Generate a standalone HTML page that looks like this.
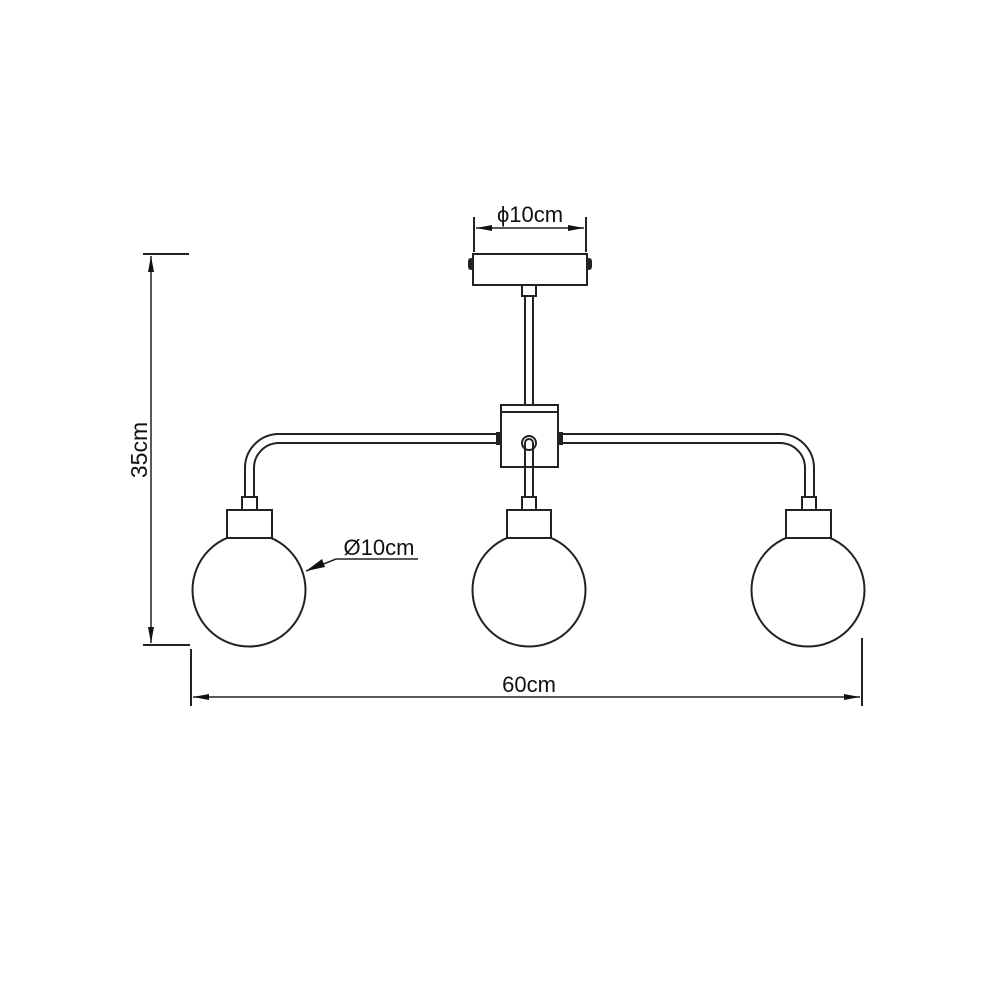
<!DOCTYPE html>
<html><head><meta charset="utf-8"><style>html,body{margin:0;padding:0;background:#fff}svg{display:block}text{font-family:"Liberation Sans",sans-serif;fill:#111}</style></head>
<body>
<svg width="1000" height="1000" viewBox="0 0 1000 1000" xmlns="http://www.w3.org/2000/svg">
<defs>
<marker id="a" viewBox="0 0 10 10" refX="10" refY="5" markerWidth="16" markerHeight="6" markerUnits="userSpaceOnUse" orient="auto-start-reverse" preserveAspectRatio="none"><path d="M0,0 L10,5 L0,10 z" fill="#111"/></marker>
</defs>
<g fill="none" stroke="#222" stroke-width="2">
<line x1="474" y1="217" x2="474" y2="252"/>
<line x1="586" y1="217" x2="586" y2="252"/>
<line x1="476" y1="228" x2="584" y2="228" stroke-width="1.5" marker-start="url(#a)" marker-end="url(#a)"/>
<rect x="473" y="254" width="114" height="31" fill="#fff"/>
<rect x="469" y="259" width="4" height="10" rx="2" fill="#222"/>
<rect x="587" y="259" width="4" height="10" rx="2" fill="#222"/>
<rect x="522" y="285" width="14" height="11"/>
<line x1="525" y1="296" x2="525" y2="405"/>
<line x1="533" y1="296" x2="533" y2="405"/>
<path d="M501,434 H279 A34,34 0 0 0 245,468 V497"/>
<path d="M501,443 H279 A25,25 0 0 0 254,468 V497"/>
<path d="M558,434 H780 A34,34 0 0 1 814,468 V497"/>
<path d="M558,443 H780 A25,25 0 0 1 805,468 V497"/>
<rect x="501" y="405" width="57" height="62" fill="#fff"/>
<line x1="501" y1="412" x2="558" y2="412"/>
<rect x="497" y="433" width="4" height="11" fill="#222"/>
<rect x="558" y="433" width="4" height="11" fill="#222"/>
<path d="M525,497 V443 A4,4 0 0 1 533,443 V497"/>
<circle cx="529" cy="443" r="7"/>
<rect x="242" y="497" width="15" height="13"/>
<circle cx="249" cy="590" r="56.5"/>
<rect x="522" y="497" width="14" height="13"/>
<circle cx="529" cy="590" r="56.5"/>
<rect x="802" y="497" width="14" height="13"/>
<circle cx="808" cy="590" r="56.5"/>
</g>
<g fill="#fff" stroke="#222" stroke-width="2">
<rect x="227" y="510" width="45" height="28"/>
<rect x="507" y="510" width="44" height="28"/>
<rect x="786" y="510" width="45" height="28"/>
</g>
<g fill="none" stroke="#222" stroke-width="2">
<polyline points="306,571 336,559 418,559" stroke-width="1.5"/>
<line x1="143" y1="254" x2="189" y2="254"/>
<line x1="143" y1="645" x2="190" y2="645"/>
<line x1="151" y1="256" x2="151" y2="643" stroke-width="1.5" marker-start="url(#a)" marker-end="url(#a)"/>
<line x1="191" y1="649" x2="191" y2="706"/>
<line x1="862" y1="638" x2="862" y2="706"/>
<line x1="193" y1="697" x2="860" y2="697" stroke-width="1.5" marker-start="url(#a)" marker-end="url(#a)"/>
</g>
<path d="M306,571 L322,559 L325,567 z" fill="#111"/>
<text x="530" y="222" font-size="22" text-anchor="middle">ϕ10cm</text>
<text x="379" y="555" font-size="22" text-anchor="middle">Ø10cm</text>
<text x="529" y="692" font-size="22" text-anchor="middle">60cm</text>
<text x="0" y="0" font-size="23" text-anchor="middle" transform="translate(147,450) rotate(-90)">35cm</text>
</svg>
</body></html>
